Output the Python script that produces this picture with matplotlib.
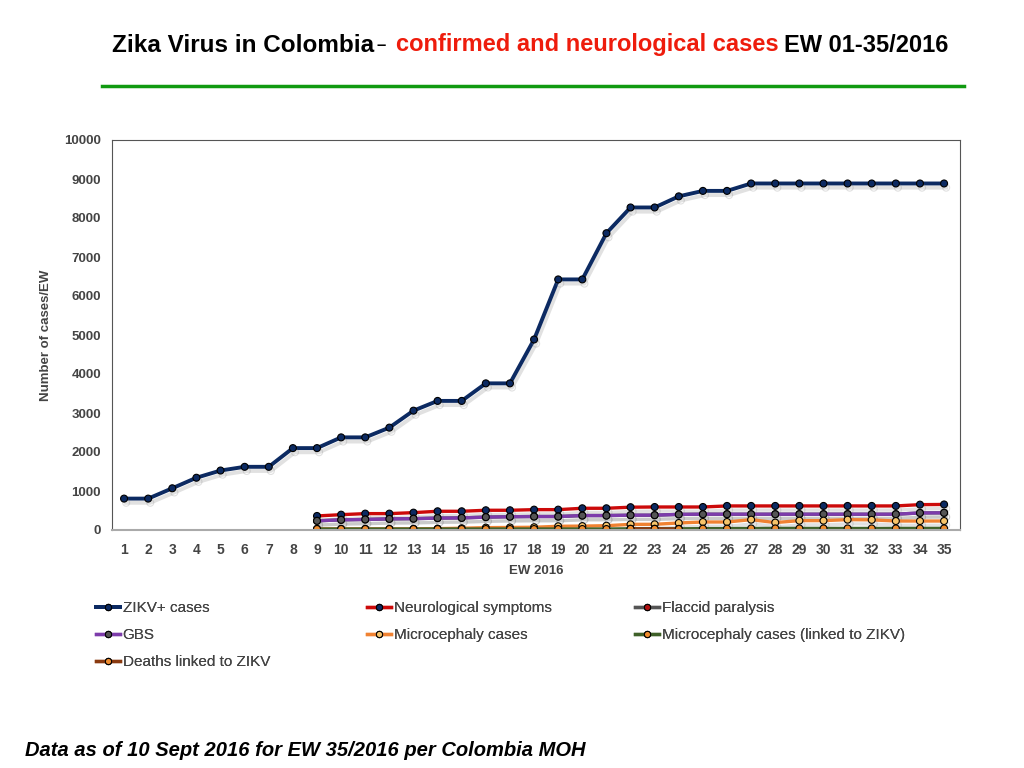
import matplotlib
matplotlib.use("Agg")
import matplotlib.pyplot as plt
import matplotlib.patheffects as pe
from matplotlib.lines import Line2D
import numpy as np

plt.rcParams['font.family'] = ['Liberation Sans', 'DejaVu Sans']

weeks = list(range(1, 36))

# valores (semanas 1-35)
zikv = [805, 805, 1070, 1340, 1525, 1620, 1620, 2100, 2100, 2375, 2375, 2625,
        3060, 3310, 3310, 3760, 3760, 4885, 6425, 6425, 7610, 8270, 8270, 8555,
        8695, 8695, 8885, 8885, 8885, 8885, 8885, 8885, 8885, 8885, 8885]
neuro = [None] * 8 + [360, 393, 420, 420, 445, 480, 480, 506, 506, 522, 522, 557,
                      557, 585, 590, 590, 590, 617, 617, 617, 617, 617, 617, 617,
                      617, 650, 655]
gbs = [None] * 8 + [235, 260, 270, 285, 290, 305, 310, 330, 340, 345, 345, 370,
                    370, 380, 380, 400, 405, 405, 405, 405, 405, 405, 405, 405,
                    405, 437, 440]
flaccid = gbs[:]
micro = [None] * 8 + [30, 30, 30, 30, 30, 35, 45, 60, 65, 70, 95, 100,
                      110, 145, 146, 180, 205, 205, 265, 190, 240, 240, 265, 260,
                      230, 230, 230]
micro_zikv = [None] * 8 + [25, 25, 25, 25, 25, 25, 25, 25, 25, 25, 25, 25,
                           25, 30, 30, 30, 35, 35, 40, 40, 40, 40, 40, 40,
                           40, 40, 40]
deaths = [None] * 21 + [30, 30, 25] + [None] * 11

series = [
    ("ZIKV+ cases", zikv, "#0c2a62", "#0c2a62"),
    ("Neurological symptoms", neuro, "#cc0a0a", "#0c2a62"),
    ("Flaccid paralysis", flaccid, "#555555", "#b01010"),
    ("GBS", gbs, "#7d3cab", "#555555"),
    ("Microcephaly cases", micro, "#f08232", "#f7c46a"),
    ("Microcephaly cases (linked to ZIKV)", micro_zikv, "#3f6129", "#f08c2e"),
    ("Deaths linked to ZIKV", deaths, "#8a3a10", "#f08c2e"),
]

fig = plt.figure(figsize=(10.24, 7.68), dpi=100)
ax = fig.add_axes([112 / 1024, 1 - 530 / 768, 848 / 1024, 390 / 768])

shadow = [pe.SimpleLineShadow(offset=(1.5, -3), shadow_color='#888888', alpha=0.25),
          pe.Normal()]

handles = {}
for name, vals, col, mcol in series:
    y = np.array([np.nan if v is None else v for v in vals], dtype=float)
    lw = 2.8 if name == "ZIKV+ cases" else 2.4
    ax.plot(weeks, y, color=col, lw=lw, marker='o', markersize=5,
            markerfacecolor=mcol, markeredgecolor='black',
            markeredgewidth=0.8, path_effects=shadow)
    handles[name] = Line2D([], [], color=col, lw=lw, marker='o', markersize=4.5,
                           markerfacecolor=mcol, markeredgecolor='black',
                           markeredgewidth=0.8)

ax.set_xlim(0.5, 35.66)
ax.set_ylim(0, 10000)
ax.set_xticks(weeks)
ax.set_yticks(range(0, 10001, 1000))
ax.tick_params(axis='x', length=0, labelsize=10, labelcolor='#444444', pad=9)
ax.tick_params(axis='y', length=0, labelsize=9.5, labelcolor='#444444', pad=8)
for lab in ax.get_xticklabels() + ax.get_yticklabels():
    lab.set_fontweight('bold')
ax.set_xlabel("EW 2016", fontsize=9.5, fontweight='bold', color='#444444', labelpad=6)
ax.set_ylabel("Number of cases/EW", fontsize=9.5, fontweight='bold', color='#444444', labelpad=9)
for s in ['left', 'top', 'right']:
    ax.spines[s].set_color('#555555')
ax.spines['bottom'].set_color('#aaaaaa')
ax.spines['bottom'].set_linewidth(1.5)

# leyenda en tres columnas
columns = [
    (96, ["ZIKV+ cases", "GBS", "Deaths linked to ZIKV"]),
    (367, ["Neurological symptoms", "Microcephaly cases"]),
    (635, ["Flaccid paralysis", "Microcephaly cases (linked to ZIKV)"]),
]
for x0, names in columns:
    leg = fig.legend([handles[n] for n in names], names, loc='upper left',
                     bbox_to_anchor=(x0 / 1024, 1 - 601 / 768), frameon=False,
                     fontsize=11, handlelength=1.6, handletextpad=0.15,
                     labelspacing=0.85, borderaxespad=0, borderpad=0)
    for t in leg.get_texts():
        t.set_color('#444444')
    fig.add_artist(leg)

# titulo en partes de colores
renderer = fig.canvas.get_renderer()
x = 112 / 1024
parts = [("Zika Virus in Colombia", 'black', 17.5, 0.002), ("\u2013", 'black', 12, 0.01),
         ("confirmed and neurological cases", '#ee1c0c', 17, 0.006), ("EW 01-35/2016", 'black', 17, 0)]
for txt, col, fs, gap in parts:
    t = fig.text(x, 1 - 45 / 768, txt, color=col, fontsize=fs, fontweight='bold',
                 ha='left', va='center')
    bb = t.get_window_extent(renderer)
    x = bb.x1 / fig.bbox.width + gap

fig.add_artist(Line2D([102 / 1024, 964 / 1024], [1 - 86 / 768, 1 - 86 / 768],
                      color='#109a10', lw=2.5))

fig.text(25 / 1024, 1 - 750 / 768, "Data as of 10 Sept 2016 for EW 35/2016 per Colombia MOH",
         fontsize=14.5, fontweight='bold', fontstyle='italic', ha='left', va='center')

fig.savefig("out.png", dpi=100)
